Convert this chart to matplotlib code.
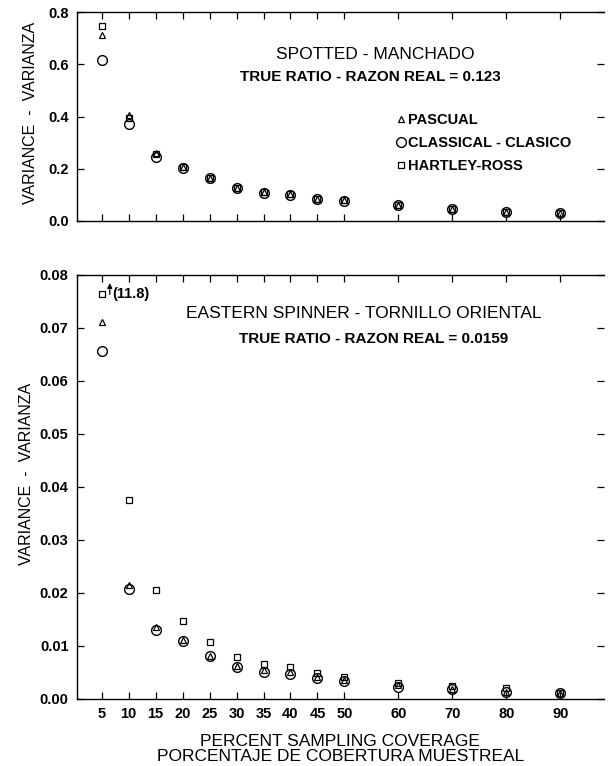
import numpy as np
import matplotlib
matplotlib.use('Agg')
import matplotlib.pyplot as plt

plt.rcParams['font.family'] = ['Liberation Sans', 'DejaVu Sans']

# percent sampling coverage
coverage = [5, 10, 15, 20, 25, 30, 35, 40, 45, 50, 60, 70, 80, 90]

# Spotted - Manchado
spot_pascual = [0.711, 0.405, 0.262, 0.207, 0.166, 0.127, 0.110, 0.102, 0.085, 0.079, 0.061, 0.046, 0.035, 0.031]
spot_classical = [0.617, 0.372, 0.244, 0.205, 0.164, 0.125, 0.109, 0.101, 0.084, 0.078, 0.060, 0.045, 0.034, 0.030]
spot_hartley = [0.747, 0.393, 0.256, 0.207, 0.166, 0.127, 0.110, 0.102, 0.085, 0.079, 0.061, 0.047, 0.036, 0.031]

# Eastern spinner - Tornillo oriental
spin_pascual = [0.0712, 0.0216, 0.0136, 0.0111, 0.0082, 0.0062, 0.0055, 0.0051, 0.0041, 0.0035, 0.0026, 0.0019, 0.0014, 0.0011]
spin_classical = [0.0657, 0.0207, 0.0130, 0.0110, 0.0081, 0.0060, 0.0051, 0.0048, 0.0039, 0.0033, 0.0023, 0.0018, 0.0013, 0.0011]
spin_hartley = [11.8, 0.0375, 0.0205, 0.0148, 0.0108, 0.0079, 0.0066, 0.0060, 0.0049, 0.0041, 0.0030, 0.0025, 0.0020, 0.0012]
offscale_y = 0.0765  # where off-scale values are drawn

fig = plt.figure(figsize=(6.10, 7.66), dpi=100)
ax1 = fig.add_axes([0.126, 0.7115, 0.864, 0.2725])
ax2 = fig.add_axes([0.126, 0.0875, 0.864, 0.5535])

tick_font = dict(fontsize=10.5, fontweight='bold')


def draw(ax, pas, cla, har):
    ax.plot(coverage, cla, 'o', ms=7, mfc='none', mec='black', mew=1.0, label='CLASSICAL - CLASICO')
    ax.plot(coverage, pas, '^', ms=4.2, mfc='none', mec='black', mew=0.9, label='PASCUAL')
    ax.plot(coverage, har, 's', ms=4.0, mfc='none', mec='black', mew=0.9, label='HARTLEY-ROSS')
    ax.set_xlim(0.4, 98.1)
    ax.set_xticks(coverage)
    ax.tick_params(axis='both', direction='in', length=5, width=0.9, top=True, right=True, pad=6)
    for s in ax.spines.values():
        s.set_linewidth(1.0)
    # right edge faded out in the scan, only its ticks remain
    ax.spines['right'].set_visible(False)
    ax.set_ylabel('VARIANCE  -  VARIANZA', fontsize=11.5)


draw(ax1, spot_pascual, spot_classical, spot_hartley)
ax1.set_ylim(0, 0.8)
ax1.set_yticks([0.0, 0.2, 0.4, 0.6, 0.8])
ax1.set_yticklabels(['0.0', '0.2', '0.4', '0.6', '0.8'], **tick_font)
ax1.set_xticklabels([])
ax1.yaxis.set_label_coords(-0.074, 0.52)
ax1.text(0.567, 0.80, 'SPOTTED - MANCHADO', transform=ax1.transAxes, ha='center', va='center', fontsize=12.5)
ax1.text(0.556, 0.689, 'TRUE RATIO - RAZON REAL = 0.123', transform=ax1.transAxes, ha='center', va='center',
         fontsize=11, fontweight='bold')
h, l = ax1.get_legend_handles_labels()
order = [1, 0, 2]
ax1.legend([h[i] for i in order], [l[i] for i in order], loc='upper left', bbox_to_anchor=(0.593, 0.55),
           frameon=False, handlelength=0.6, handletextpad=0.15, labelspacing=0.6, borderpad=0,
           prop=dict(size=10.5, weight='bold'))

draw(ax2, spin_pascual, spin_classical, np.minimum(spin_hartley, offscale_y))
ax2.set_ylim(0, 0.08)
ax2.set_yticks([0.0, 0.01, 0.02, 0.03, 0.04, 0.05, 0.06, 0.07, 0.08])
ax2.set_yticklabels(['0.00', '0.01', '0.02', '0.03', '0.04', '0.05', '0.06', '0.07', '0.08'], **tick_font)
ax2.set_xticklabels([str(c) for c in coverage], **tick_font)
ax2.yaxis.set_label_coords(-0.082, 0.53)
ax2.set_xlabel('PERCENT SAMPLING COVERAGE\nPORCENTAJE DE COBERTURA MUESTREAL', fontsize=12.5, labelpad=9,
               linespacing=1.05)
ax2.text(0.545, 0.910, 'EASTERN SPINNER - TORNILLO ORIENTAL', transform=ax2.transAxes, ha='center', va='center',
         fontsize=12.5)
ax2.text(0.564, 0.849, 'TRUE RATIO - RAZON REAL = 0.0159', transform=ax2.transAxes, ha='center', va='center',
         fontsize=11, fontweight='bold')
# off-scale marker for Hartley-Ross at 5 %
ax2.annotate('', xy=(6.5, 0.0790), xytext=(6.5, 0.0758),
             arrowprops=dict(arrowstyle='-|>', color='black', lw=0.9, mutation_scale=7))
ax2.text(7.0, offscale_y, '(%.1f)' % spin_hartley[0], ha='left', va='center', fontsize=10.5, fontweight='bold')

fig.savefig('out.png', dpi=100)
